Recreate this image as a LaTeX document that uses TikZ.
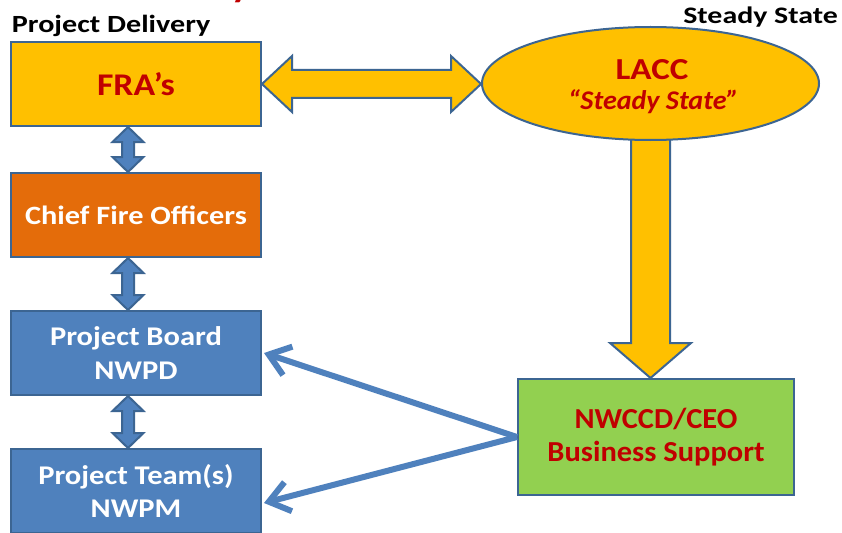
\documentclass[tikz,border=0pt]{standalone}
\usepackage{graphicx}
\usepackage{fontspec}
\setmainfont{Carlito}
\usetikzlibrary{shapes.geometric,arrows.meta,calc}
\definecolor{gold}{HTML}{FFC000}
\definecolor{orng}{HTML}{E46C0A}
\definecolor{blu}{HTML}{4F81BD}
\definecolor{grn}{HTML}{92D050}
\definecolor{redt}{HTML}{C00000}
\definecolor{edge}{HTML}{3C6592}
\newcommand\wx[2]{\scalebox{#1}[1]{#2}}
\begin{document}
\begin{tikzpicture}[x=1pt,y=-1pt,
 box/.style={draw=edge,line width=2pt,minimum width=250pt,minimum height=84pt,inner sep=0pt,anchor=north west,font=\bfseries,align=center},
 blk/.style={draw=edge,line width=2pt,line join=miter},
 lbl/.style={inner sep=0pt,font=\bfseries},
 link/.style={draw=blu,line width=6pt,-{Straight Barb[length=20pt,width=30pt]}}]
\useasboundingbox (0,0) rectangle (842,532);
\fill[white] (0,0) rectangle (842,532);
\begin{scope}
\clip (0,0) rectangle (842,532);
% cut-off title descender
\node[lbl,anchor=base west,text=redt,font=\bfseries\fontsize{40}{40}\selectfont] (ttl) at (231,-3) {y};
% headings
\node[lbl,anchor=base west,font=\bfseries\fontsize{24.7}{25}\selectfont] (pd) at (11.7,32.5) {\wx{1.22}{Project Delivery}};
\node[lbl,anchor=base east,font=\bfseries\fontsize{23.7}{24}\selectfont] (ss) at (838,23.3) {\wx{1.26}{Steady State}};
% left column
\node[box,fill=gold,text=redt,font=\bfseries\fontsize{31.6}{32}\selectfont] (fra) at (10,41) {\wx{1.13}{FRA’s}};
\node[box,fill=orng,text=white,font=\bfseries\fontsize{26.4}{33.3}\selectfont] (cfo) at (10,172) {\wx{1.15}{Chief Fire Officers}};
\node[box,fill=blu,text=white,font=\bfseries\fontsize{27}{33.3}\selectfont] (pb) at (10,310) {\wx{1.13}{Project Board}\\\wx{1.13}{NWPD}};
\node[box,fill=blu,text=white,font=\bfseries\fontsize{27}{33.3}\selectfont] (pt) at (10,448) {\wx{1.13}{Project Team(s)}\\\wx{1.13}{NWPM}};
% right side
\node[box,fill=grn,text=redt,minimum width=276pt,minimum height=116pt,font=\bfseries\fontsize{29}{33.3}\selectfont] (nw) at (517,378) {\wx{1.05}{NWCCD/CEO}\\\wx{1.05}{Business Support}};
% down arrow (drawn under ellipse)
\coordinate (dtop) at (650.5,90);
\coordinate (dtip) at (650.5,378);
\draw[blk,fill=gold] ($(dtop)+(-19.5,0)$) -- ($(dtip)+(-19.5,-35)$) -- ($(dtip)+(-40.5,-35)$) -- (dtip) -- ($(dtip)+(40.5,-35)$) -- ($(dtip)+(19.5,-35)$) -- ($(dtop)+(19.5,0)$) -- cycle;
\node[ellipse,draw=edge,line width=2pt,fill=gold,minimum width=337pt,minimum height=113pt,inner sep=0pt] (lacc) at (650.5,83.5) {};
\node[lbl,anchor=base,text=redt,font=\bfseries\fontsize{30.5}{31}\selectfont] (laccA) at (652,79.3) {\wx{1.15}{LACC}};
\node[lbl,anchor=base,text=redt,font=\bfseries\itshape\fontsize{27}{27}\selectfont] (laccB) at (653.5,110) {\wx{1.04}{“Steady State”}};
% horizontal double block arrow
\coordinate (h1) at (fra.east);
\coordinate (h2) at (fra.east -| lacc.west);
\draw[blk,fill=gold] (h1) -- ($(h1)+(30,-28)$) -- ($(h1)+(30,-14)$) -- ($(h2)+(-30,-14)$) -- ($(h2)+(-30,-28)$) -- (h2) -- ($(h2)+(-30,28)$) -- ($(h2)+(-30,14)$) -- ($(h1)+(30,14)$) -- ($(h1)+(30,28)$) -- cycle;
% vertical double block arrows
\foreach \a/\b in {fra/cfo,cfo/pb,pb/pt}{
 \coordinate (t) at ($(\a.south)+(-8,0)$);
 \coordinate (u) at ($(\b.north)+(-8,0)$);
 \draw[blk,fill=blu] (t) -- ($(t)+(15.5,15)$) -- ($(t)+(6,15)$) -- ($(u)+(6,-15)$) -- ($(u)+(15.5,-15)$) -- (u) -- ($(u)+(-15.5,-15)$) -- ($(u)+(-6,-15)$) -- ($(t)+(-6,15)$) -- ($(t)+(-15.5,15)$) -- cycle;
}
% links
\draw[link] (nw.west) -- ($(pb.east)+(2,0)$);
\draw[link] (nw.west) -- ($(pt.east)+(2,12)$);
\end{scope}
\end{tikzpicture}
\end{document}
